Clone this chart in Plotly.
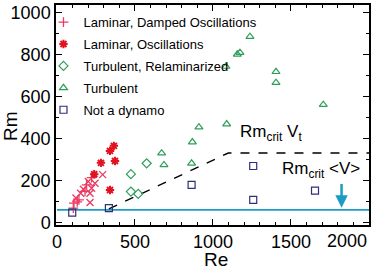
import plotly.graph_objects as go

# ---- data ----
damped_re = [105, 109, 122, 141, 152, 169, 190, 201, 222, 212, 222, 244, 212, 293, 130, 180]
damped_rm = [70, 94, 119, 110, 141, 160, 181, 197, 216, 141, 165, 189, 97, 230, 100, 150]
damped_sym = ["cross-thin-open", "cross-thin-open", "x-thin-open", "cross-thin-open", "x-thin-open",
              "x-thin-open", "cross-thin-open", "x-thin-open", "cross-thin-open", "x-thin-open",
              "x-thin-open", "x-thin-open", "x-thin-open", "x-thin-open", "cross-thin-open", "cross-thin-open"]

osc_re = [282, 340, 365, 372, 239, 340]
osc_rm = [286, 343, 367, 295, 232, 157]

relam_re = [474, 575, 474, 521]
relam_rm = [232, 284, 149, 138]

turb_re = [671, 686, 868, 863, 910, 1088, 1083, 1156, 1173, 1237, 1404, 1404, 1707]
turb_rm = [332, 276, 385, 284, 456, 471, 745, 803, 811, 887, 720, 668, 563]

nodyn_re = [98, 333, 863, 1258, 1258, 1654]
nodyn_rm = [49, 70, 181, 271, 110, 154]

crit_v_re = [0, 2000]
crit_v_rm = [62, 62]

crit_vt_re = [333, 1098, 2000]
crit_vt_rm = [67, 333, 333]

x_ticks = [0, 500, 1000, 1500, 2000]
x_ticktext = ["0", "500", "1000", "1500", ""]
y_ticks = [0, 200, 400, 600, 800, 1000]

RED_P = "#ea3a62"
RED = "#e3121f"
GREEN = "#2e9e5a"
NAVY = "#2f2f7a"
CYAN = "#1b9cc4"

fig = go.Figure()

fig.add_trace(go.Scatter(x=crit_v_re, y=crit_v_rm, mode="lines",
                         line=dict(color=CYAN, width=1.6), showlegend=False))
fig.add_trace(go.Scatter(x=crit_vt_re, y=crit_vt_rm, mode="lines",
                         line=dict(color="black", width=1.4, dash="dash"), showlegend=False))

fig.add_trace(go.Scatter(x=damped_re, y=damped_rm, mode="markers", name="Laminar, Damped Oscillations",
                         legendgroup="a",
                         marker=dict(symbol=damped_sym, size=7, color=RED_P, line=dict(color=RED_P, width=1.3))))
fig.add_trace(go.Scatter(x=osc_re, y=osc_rm, mode="markers", name="Laminar, Oscillations",
                         legendgroup="b",
                         marker=dict(symbol="asterisk-open", size=7, color=RED, line=dict(color=RED, width=2.0))))
fig.add_trace(go.Scatter(x=relam_re, y=relam_rm, mode="markers", name="Turbulent, Relaminarized",
                         legendgroup="c",
                         marker=dict(symbol="diamond-open", size=7, color=GREEN, line=dict(color=GREEN, width=1.2))))
fig.add_trace(go.Scatter(x=turb_re, y=turb_rm, mode="markers", name="Turbulent",
                         legendgroup="d",
                         marker=dict(symbol="triangle-up-open", size=7, color=GREEN, line=dict(color=GREEN, width=1.2))))
fig.add_trace(go.Scatter(x=nodyn_re, y=nodyn_rm, mode="markers", name="Not a dynamo",
                         legendgroup="e",
                         marker=dict(symbol="square-open", size=7, color=NAVY, line=dict(color=NAVY, width=1.2))))

axis_common = dict(showgrid=False, zeroline=False, showline=True, linecolor="black", linewidth=1.5,
                   mirror="allticks", ticks="inside", ticklen=6, tickwidth=1, tickcolor="black",
                   automargin=False,
                   tickfont=dict(family="Liberation Sans, Arial", size=18, color="black"))

fig.update_layout(
    width=374, height=270,
    margin=dict(l=56, r=5, t=5, b=45, autoexpand=False),
    paper_bgcolor="white", plot_bgcolor="white",
    font=dict(family="Liberation Sans, Arial", color="black"),
    xaxis=dict(range=[-6, 2000], tickmode="array", tickvals=x_ticks, ticktext=x_ticktext,
               minor=dict(dtick=100, ticks="inside", ticklen=3, tickcolor="black"), **axis_common),
    yaxis=dict(range=[-10, 1038], tickmode="array", tickvals=y_ticks,
               minor=dict(dtick=100, ticks="inside", ticklen=3, tickcolor="black"), **axis_common),
    legend=dict(x=-0.04, y=0.99, xanchor="left", yanchor="top", bgcolor="rgba(0,0,0,0)",
                font=dict(family="Liberation Sans, Arial", size=13, color="black"),
                tracegroupgap=2, itemwidth=30),
    annotations=[
        dict(x=1.0, y=-0.02, xref="paper", yref="paper", text="2000", showarrow=False,
             xanchor="right", yanchor="top", font=dict(size=18, color="black")),
        dict(x=0.51, y=0, xref="paper", yref="paper", yshift=-22, text="Re", showarrow=False,
             xanchor="center", yanchor="top", font=dict(size=19, color="black")),
        dict(x=0, y=0.45, xref="paper", yref="paper", xshift=-46, text="Rm", textangle=-90,
             showarrow=False, xanchor="center", yanchor="middle", font=dict(size=19, color="black")),
        dict(x=1160, y=430, xref="x", yref="y", text="Rm<sub>crit</sub> V<sub>t</sub>", showarrow=False,
             xanchor="left", yanchor="middle", font=dict(size=17, color="black")),
        dict(x=1430, y=252, xref="x", yref="y", text="Rm<sub>crit</sub> &lt;V&gt;", showarrow=False,
             xanchor="left", yanchor="middle", font=dict(size=17, color="black")),
        dict(x=1824, y=72, ax=1824, ay=192, xref="x", yref="y", axref="x", ayref="y",
             text="", showarrow=True, arrowhead=2, arrowsize=1, arrowwidth=2.5, arrowcolor=CYAN),
    ],
)

fig.write_html("out.html", config={"displayModeBar": False},
               post_script="document.body.style.margin='0';document.body.style.padding='0';")
